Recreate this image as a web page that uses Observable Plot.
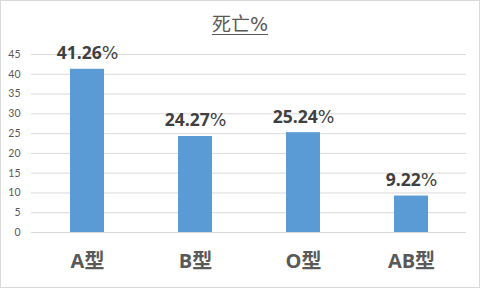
<!DOCTYPE html>
<html>
<head>
<meta charset="utf-8">
<script src="https://cdn.jsdelivr.net/npm/d3@7"></script>
<script src="https://cdn.jsdelivr.net/npm/@observablehq/plot@0.6"></script>
<style>
  html, body { margin: 0; padding: 0; background: #fff; }
  #wrap { position: relative; width: 480px; height: 288px; }
  #frame { position: absolute; left: 0; top: 0; width: 478px; height: 286px; border: 1px solid #d9d9d9; pointer-events: none; }
  #title { position: absolute; left: 0; top: 10px; width: 480px; text-align: center;
           font-family: "Noto Sans CJK SC", sans-serif; font-size: 19px; color: #595959;
           text-decoration: underline; text-underline-offset: 3px; text-decoration-thickness: 1px; line-height: 26px; }
  #title .pct { font-family: "DejaVu Sans", sans-serif; font-weight: normal; }
</style>
</head>
<body>
<div id="wrap">
  <div id="chart"></div>
  <div id="title">死亡<span class="pct">%</span></div>
  <div id="frame"></div>
</div>
<script>
const categories = ["A型", "B型", "O型", "AB型"];
const values = [41.26, 24.27, 25.24, 9.22];
const labels = ["41.26%", "24.27%", "25.24%", "9.22%"];
const yTicks = [0, 5, 10, 15, 20, 25, 30, 35, 40, 45];

const data = categories.map((c, i) => ({ cat: c, value: values[i], label: labels[i] }));

const chart = Plot.plot({
  width: 480,
  height: 288,
  marginLeft: 31,
  marginRight: 14,
  marginTop: 54,
  marginBottom: 56,
  style: { fontFamily: "Lato, 'Noto Sans CJK SC', sans-serif", background: "transparent" },
  x: { domain: categories, paddingInner: 0.687, paddingOuter: 0.3435, label: null },
  y: { domain: [0, 45], ticks: yTicks, label: null },
  marks: [
    Plot.gridY(yTicks, { stroke: "#d9d9d9", strokeOpacity: 1 }),
    Plot.axisY(yTicks, { tickSize: 0, tickPadding: 11, fontSize: 10.5, fill: "#595959", label: null }),
    Plot.axisX({ tickSize: 0, tickPadding: 21, fontSize: 20, fontWeight: "bold", fill: "#595959", fontFamily: "'Open Sans', 'Noto Sans CJK SC', sans-serif", label: null }),
    Plot.barY(data, { x: "cat", y: "value", fill: "#5b9bd5" }),
    Plot.text(data, { x: "cat", y: "value", text: "label", dy: -10, lineAnchor: "bottom", fontSize: 17.5, fontWeight: "bold", fill: "#404040", fontFamily: "'Open Sans', 'Noto Sans CJK SC', sans-serif" })
  ]
});
// draw the percent sign in a wide, regular-weight face, as in the original
chart.querySelectorAll("text").forEach(t => {
  const s = t.textContent;
  if (labels.includes(s)) {
    t.textContent = "";
    const ns = "http://www.w3.org/2000/svg";
    const a = document.createElementNS(ns, "tspan");
    a.textContent = s.slice(0, -1);
    const b = document.createElementNS(ns, "tspan");
    b.textContent = s.slice(-1);
    b.setAttribute("font-family", "DejaVu Sans, sans-serif");
    b.setAttribute("font-weight", "normal");
    t.appendChild(a);
    t.appendChild(b);
  }
});
document.getElementById("chart").appendChild(chart);
</script>
</body>
</html>
